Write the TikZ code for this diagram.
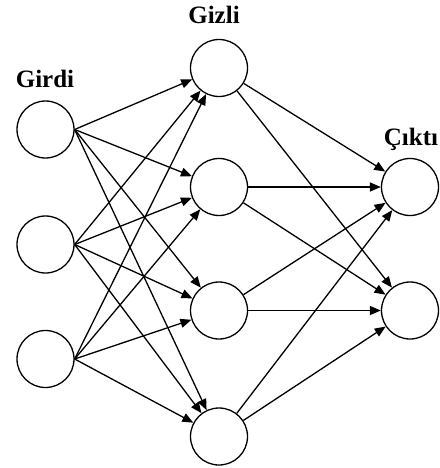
\documentclass[tikz,border=0pt]{standalone}
\usepackage{fontspec}
\setmainfont{Liberation Serif}
\usetikzlibrary{arrows.meta}
\begin{document}
\begin{tikzpicture}[x=1pt,y=-1pt,
  neuron/.style={circle,draw,line width=1.3pt,minimum size=57pt,inner sep=0pt},
  conn/.style={line width=1.3pt,-{Triangle[length=11pt,width=9pt]}},
  lbl/.style={anchor=base,font=\fontsize{25}{29}\selectfont\bfseries,inner sep=0pt}]
\useasboundingbox (0,0) rectangle (439,468);
\node[neuron] (i1) at (45.5,129.5) {};
\node[neuron] (i2) at (45.5,244.5) {};
\node[neuron] (i3) at (45.5,359) {};
\node[neuron] (h1) at (219,68) {};
\node[neuron] (h2) at (219,187) {};
\node[neuron] (h3) at (219,310.5) {};
\node[neuron] (h4) at (219,436.5) {};
\node[neuron] (o1) at (410,187) {};
\node[neuron] (o2) at (410,310.5) {};
\node[lbl] (tg) at (45,87.5) {Girdi};
\node[lbl] (th) at (214,24) {Gizli};
\node[lbl] (to) at (411,145) {Çıktı};
\foreach \i in {i1,i2,i3}{
  \foreach \h in {h1,h2,h3,h4}{
    \draw[conn] (\i.east) -- (\h);
  }
}
\foreach \h in {h1,h2,h3,h4}{
  \foreach \o in {o1,o2}{
    \draw[conn] (\h) -- (\o);
  }
}
\end{tikzpicture}
\end{document}
